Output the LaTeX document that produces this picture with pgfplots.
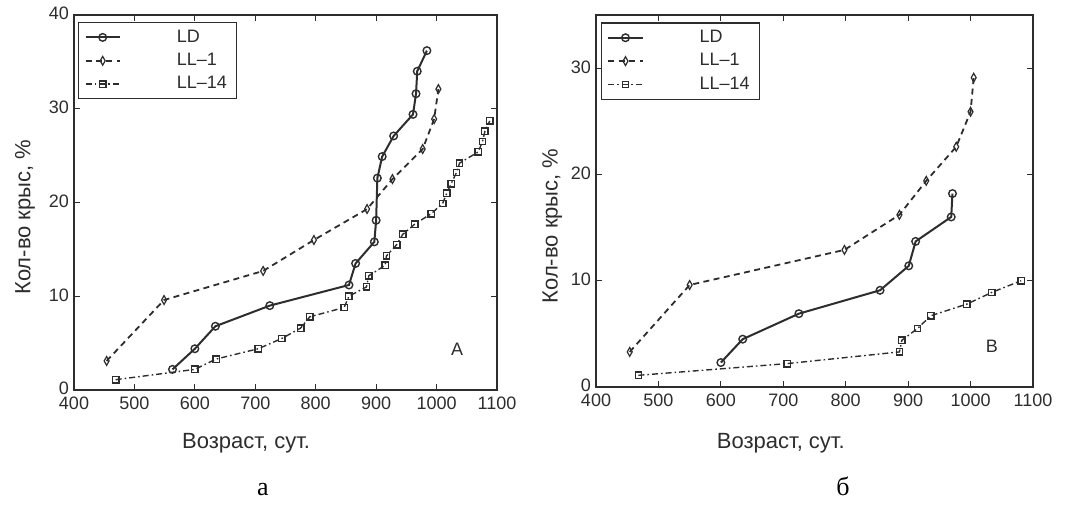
\documentclass[border=0pt]{standalone}
\usepackage{fontspec}
\setmainfont{Liberation Sans}
\newfontfamily\seriffont{Liberation Serif}
\usepackage{pgfplots}
\pgfplotsset{compat=1.18}
\definecolor{ink}{RGB}{45,45,45}

\pgfplotsset{
  ratstyle/.style={
    scale only axis,
    axis line style={ink, line width=0.6pt},
    tick style={ink, line width=0.5pt},
    tick align=inside,
    major tick length=3pt,
    xmin=400, xmax=1100,
    xtick={400,500,...,1100},
    /pgf/number format/assume math mode=true,
    /pgf/number format/1000 sep={},
    tick label style={font=\fontsize{9}{10}\selectfont, text=ink},
    label style={font=\fontsize{11}{12}\selectfont, text=ink},
    xticklabel style={yshift=0pt},
    yticklabel style={xshift=1pt, yshift=0.6pt},
    legend cell align=left,
    legend style={
      draw=ink, line width=0.6pt, fill=white,
      font=\fontsize{9}{10}\selectfont, text=ink,
      inner xsep=3pt, inner ysep=1.5pt,
      /tikz/every odd column/.append style={column sep=26pt},
    },
  },
  ld/.style={ink, line width=1pt, mark=o, mark size=1.9pt,
    mark options={solid, fill=white, line width=0.7pt}},
  ll1/.style={ink, line width=0.9pt, dash pattern=on 3pt off 2.2pt,
    mark=diamond, mark size=2.2pt,
    mark options={solid, fill=white, line width=0.6pt, xscale=0.75}},
  ll14/.style={ink, line width=0.7pt, dash pattern=on 3pt off 1.5pt on 0.8pt off 1.5pt,
    mark=square, mark size=1.6pt,
    mark options={solid, fill=white, line width=0.7pt}},
}

\begin{document}
\begin{tikzpicture}
\path (0,0) rectangle (535pt,254.5pt);

% panel a
\begin{axis}[ratstyle,
  at={(37pt,59.5pt)}, anchor=south west,
  width=211.5pt, height=187.5pt,
  ymin=0, ymax=40, ytick={0,10,20,30,40},
  xlabel={Возраст, сут.},
  ylabel={Кол-во крыс, \%},
  xlabel style={at={(axis description cs:0.407,-0.141)}, anchor=center},
  ylabel style={at={(axis description cs:-0.116,0.461)}, anchor=center},
  legend style={at={(axis description cs:0.0095,0.981)}, anchor=north west},
]
\addplot[ld] coordinates {
  (563,2.2) (600,4.4) (634,6.8) (724,9.0) (855,11.2) (866,13.5)
  (897,15.8) (900,18.1) (902,22.6) (910,24.9) (929,27.1) (961,29.4)
  (966,31.6) (968,34.0) (984,36.2)};
\addplot[ll1] coordinates {
  (454,3.1) (549,9.6) (713,12.7) (797,16.0) (885,19.3) (927,22.5)
  (977,25.7) (996,28.9) (1003,32.1)};
\addplot[ll14] coordinates {
  (469,1.1) (600,2.2) (635,3.3) (705,4.4) (744,5.5) (775,6.6) (790,7.8)
  (847,8.8) (855,10.0) (884,11.0) (888,12.2) (915,13.3) (917,14.3)
  (934,15.5) (944,16.6) (964,17.7) (991,18.8) (1010,19.9) (1017,21.0)
  (1024,22.0) (1033,23.2) (1038,24.2) (1069,25.4) (1076,26.5) (1080,27.6)
  (1088,28.7)};
\legend{LD, LL–1, LL–14}
\node[font=\fontsize{9}{10}\selectfont, text=ink] at (axis cs:1034,4.3) {A};
\end{axis}

% panel b
\begin{axis}[ratstyle,
  at={(298pt,61pt)}, anchor=south west,
  width=218.5pt, height=186pt,
  ymin=0, ymax=35, ytick={0,10,20,30},
  xlabel={Возраст, сут.},
  ylabel={Кол-во крыс, \%},
  xlabel style={at={(axis description cs:0.423,-0.151)}, anchor=center},
  ylabel style={at={(axis description cs:-0.100,0.433)}, anchor=center},
  legend style={at={(axis description cs:0.011,0.98)}, anchor=north west},
]
\addplot[ld] coordinates {
  (600,2.3) (635,4.5) (725,6.9) (855,9.1) (901,11.4) (912,13.7)
  (969,16.0) (971,18.2)};
\addplot[ll1] coordinates {
  (454,3.3) (550,9.6) (798,12.9) (886,16.2) (929,19.4) (977,22.6)
  (1000,25.9) (1005,29.1)};
\addplot[ll14] coordinates {
  (468,1.1) (706,2.2) (886,3.3) (890,4.4) (915,5.5) (936,6.7)
  (994,7.8) (1034,8.9) (1081,10.0)};
\legend{LD, LL–1, LL–14}
\node[font=\fontsize{9}{10}\selectfont, text=ink] at (axis cs:1034,3.85) {B};
\end{axis}

\node[font=\seriffont\fontsize{13}{14}\selectfont, anchor=base] at (131.5pt,7pt) {а};
\node[font=\seriffont\fontsize{13}{14}\selectfont, anchor=base] at (421.5pt,7pt) {б};
\end{tikzpicture}
\end{document}
